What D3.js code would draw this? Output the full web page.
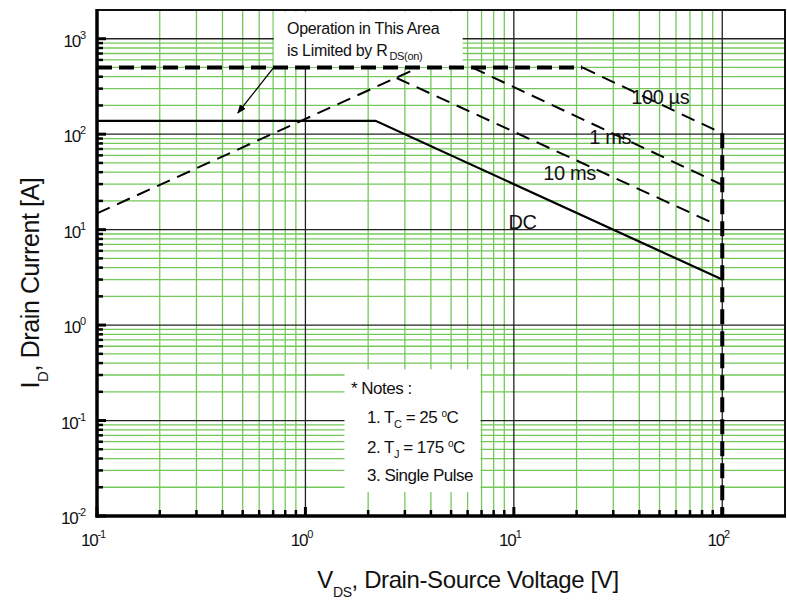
<!DOCTYPE html>
<html><head><meta charset="utf-8">
<script src="https://cdn.jsdelivr.net/npm/d3@7"></script>
<style>
body{margin:0;background:#fff;}
text{font-family:"Liberation Sans",Arial,sans-serif;fill:#111;}
</style></head>
<body><svg id="c" width="787" height="606"></svg>
<script>
// ---- data ----
const xDomain = [0.1, 200];
const yDomain = [0.01, 2000];
const xDecades = [-1, 0, 1, 2];          // tick labels 10^n on x
const yDecades = [-2, -1, 0, 1, 2, 3];   // tick labels 10^n on y
const minorMult = [2, 3, 4, 5, 6, 7, 8, 9];

// DC limit
const dcV = [0.1, 2.17, 100];
const dcI = [138, 138, 3.0];
// RDS(on) limit
const rdsV = [0.1, 3.5];
const rdsI = [14.8, 500];
// pulsed current limit
const idmV = [0.1, 21.3];
const idmI = [500, 500];
// 100 us
const us100V = [21.3, 100];
const us100I = [500, 102];
// 1 ms
const ms1V = [6.3, 100];
const ms1I = [500, 29.5];
// 10 ms
const ms10V = [2.74, 92];
const ms10I = [388, 11.5];
// BVDSS limit
const bvV = [100, 100];
const bvI = [102, 0.01];

const curveLabels = ["100 \u00b5s", "1 ms", "10 ms", "DC"];
const curveLabelV = [50.4, 29.0, 18.5, 11.0];
const curveLabelI = [207, 79, 33, 10.2];

// ---- drawing ----
const svg = d3.select("#c");
const L = 97, R = 785, T = 10, B = 516;
const x = d3.scaleLog().domain(xDomain).range([L, R]);
const y = d3.scaleLog().domain(yDomain).range([B, T]);
const green = "#74c85a";

const g = svg.append("g");

// minor grid values
const xMinor = [], yMinor = [];
xDecades.forEach(d => minorMult.forEach(m => { const v = m * Math.pow(10, d); if (v < 100.5) xMinor.push(v); }));
yDecades.forEach(d => minorMult.forEach(m => { const v = m * Math.pow(10, d); if (v < 1500) yMinor.push(v); }));
const xMajor = xDecades.map(d => Math.pow(10, d));
const yMajor = yDecades.map(d => Math.pow(10, d));

// green grid
g.selectAll(".gv").data(xMinor).join("line")
  .attr("x1", d => x(d)).attr("x2", d => x(d)).attr("y1", T).attr("y2", B)
  .attr("stroke", green).attr("stroke-width", 1.3);
g.selectAll(".gh").data(yMinor).join("line")
  .attr("y1", d => y(d)).attr("y2", d => y(d)).attr("x1", L).attr("x2", R)
  .attr("stroke", green).attr("stroke-width", 1.3);
// black major grid
g.selectAll(".mv").data(xMajor.slice(1)).join("line")
  .attr("x1", d => x(d)).attr("x2", d => x(d)).attr("y1", T).attr("y2", B)
  .attr("stroke", "#222").attr("stroke-width", 1.3);
g.selectAll(".mh").data(yMajor.slice(1)).join("line")
  .attr("y1", d => y(d)).attr("y2", d => y(d)).attr("x1", L).attr("x2", R)
  .attr("stroke", "#222").attr("stroke-width", 1.3);

// white boxes (annotation + notes)
const annBox = {v0: 0.705, v1: 5.68, i0: 505, i1: 2000};
const noteBox = {v0: 1.54, v1: 6.92, i0: 0.0178, i1: 0.356};
[annBox, noteBox].forEach(b => {
  g.append("rect").attr("x", x(b.v0)).attr("y", y(b.i1) + 1.5)
    .attr("width", x(b.v1) - x(b.v0)).attr("height", y(b.i0) - y(b.i1) - 1.5)
    .attr("fill", "#fff");
});

// ticks
const tk = svg.append("g").attr("stroke", "#000");
tk.selectAll(".tyn").data(yMinor).join("line")
  .attr("x1", L).attr("x2", L + 6).attr("y1", d => y(d)).attr("y2", d => y(d)).attr("stroke-width", 2.5);
tk.selectAll(".tyj").data(yMajor).join("line")
  .attr("x1", L).attr("x2", L + 9).attr("y1", d => y(d)).attr("y2", d => y(d)).attr("stroke-width", 3);
tk.selectAll(".txn").data(xMinor).join("line")
  .attr("y1", B).attr("y2", B - 6).attr("x1", d => x(d)).attr("x2", d => x(d)).attr("stroke-width", 2.5);
tk.selectAll(".txj").data(xMajor).join("line")
  .attr("y1", B).attr("y2", B - 9).attr("x1", d => x(d)).attr("x2", d => x(d)).attr("stroke-width", 3);

// frame
svg.append("rect").attr("x", L).attr("y", T).attr("width", R - L).attr("height", B - T)
  .attr("fill", "none").attr("stroke", "#111").attr("stroke-width", 2);
svg.append("line").attr("x1", L).attr("x2", L).attr("y1", T - 1).attr("y2", B + 1.5).attr("stroke", "#000").attr("stroke-width", 3.5);
svg.append("line").attr("x1", L - 1.5).attr("x2", R + 1).attr("y1", B).attr("y2", B).attr("stroke", "#000").attr("stroke-width", 3.5);

// curves
const line = d3.line().x(d => x(d[0])).y(d => y(d[1]));
function curve(vs, is, w, dash) {
  svg.append("path").datum(vs.map((v, k) => [v, is[k]])).attr("d", line)
    .attr("fill", "none").attr("stroke", "#000").attr("stroke-width", w)
    .attr("stroke-dasharray", dash || null);
}
curve(rdsV, rdsI, 2, "14,8");
curve(ms10V, ms10I, 2, "14,8");
curve(ms1V, ms1I, 2, "14,8");
curve(us100V, us100I, 2, "14,8");
curve(idmV, idmI, 4, "15,7");
curve(bvV, bvI, 4, "15,7");
curve(dcV, dcI, 2.2, null);

// curve labels
svg.selectAll(".cl").data(curveLabels).join("text")
  .attr("x", (d, k) => x(curveLabelV[k])).attr("y", (d, k) => y(curveLabelI[k]))
  .attr("text-anchor", "middle").attr("font-size", 20).attr("letter-spacing", -0.4)
  .text(d => d);

// annotation text
const ann = svg.append("g").attr("font-size", 16);
ann.append("text").attr("x", 287).attr("y", 34).attr("font-size", 16).attr("letter-spacing", -0.3)
  .text("Operation in This Area");
const t2 = ann.append("text").attr("x", 287).attr("y", 56).attr("font-size", 16).attr("letter-spacing", -0.3);
t2.append("tspan").text("is Limited by R");
t2.append("tspan").attr("dy", 4).attr("dx", 2).attr("font-size", 11).text("DS(on)");
// arrow
svg.append("defs").append("marker").attr("id", "ah").attr("viewBox", "0 0 10 10")
  .attr("refX", 9).attr("refY", 5).attr("markerWidth", 9).attr("markerHeight", 9)
  .attr("orient", "auto").attr("markerUnits", "userSpaceOnUse")
  .append("path").attr("d", "M0,1 L10,5 L0,9 Z").attr("fill", "#000");
const arrowV = [0.705, 0.474], arrowI = [500, 167];
svg.append("line").attr("x1", x(arrowV[0])).attr("y1", y(arrowI[0]))
  .attr("x2", x(arrowV[1])).attr("y2", y(arrowI[1]))
  .attr("stroke", "#000").attr("stroke-width", 1.3).attr("marker-end", "url(#ah)");

// notes
const notes = svg.append("g").attr("font-size", 17).attr("letter-spacing", -0.5);
notes.append("text").attr("x", 351).attr("y", 394).text("* Notes :");
const n1 = notes.append("text").attr("x", 367).attr("y", 423);
n1.append("tspan").text("1. T");
n1.append("tspan").attr("dy", 5).attr("font-size", 11).text("C");
n1.append("tspan").attr("dy", -5).text(" = 25 ");
n1.append("tspan").attr("dy", -6).attr("font-size", 10).text("o");
n1.append("tspan").attr("dy", 6).text("C");
const n2 = notes.append("text").attr("x", 367).attr("y", 453);
n2.append("tspan").text("2. T");
n2.append("tspan").attr("dy", 5).attr("font-size", 11).text("J");
n2.append("tspan").attr("dy", -5).text(" = 175 ");
n2.append("tspan").attr("dy", -6).attr("font-size", 10).text("o");
n2.append("tspan").attr("dy", 6).text("C");
notes.append("text").attr("x", 367).attr("y", 481).text("3. Single Pulse");

// tick labels
function pow10Label(sel, e) {
  sel.append("tspan").text("10");
  sel.append("tspan").attr("dy", -8).attr("font-size", 11).text(e);
}
svg.selectAll(".xl").data(xDecades).join("text")
  .attr("x", d => x(Math.pow(10, d)) - 4).attr("y", 546)
  .attr("text-anchor", "middle").attr("font-size", 17).attr("letter-spacing", -1.2)
  .each(function(d) { pow10Label(d3.select(this), d); });
svg.selectAll(".yl").data(yDecades).join("text")
  .attr("x", 85).attr("y", d => y(Math.pow(10, d)) + 8)
  .attr("text-anchor", "end").attr("font-size", 17).attr("letter-spacing", -1.2)
  .each(function(d) { pow10Label(d3.select(this), d); });

// axis titles
const xt = svg.append("text").attr("x", 468).attr("y", 588).attr("text-anchor", "middle").attr("font-size", 24).attr("letter-spacing", -0.4);
xt.append("tspan").text("V");
xt.append("tspan").attr("dy", 9).attr("font-size", 14).text("DS");
xt.append("tspan").attr("dy", -9).text(", Drain-Source Voltage [V]");
const yt = svg.append("text").attr("transform", "translate(39,283) rotate(-90)").attr("text-anchor", "middle").attr("font-size", 25).attr("letter-spacing", -0.4);
yt.append("tspan").text("I");
yt.append("tspan").attr("dy", 9).attr("font-size", 15).text("D");
yt.append("tspan").attr("dy", -9).text(", Drain Current [A]");
</script></body></html>
